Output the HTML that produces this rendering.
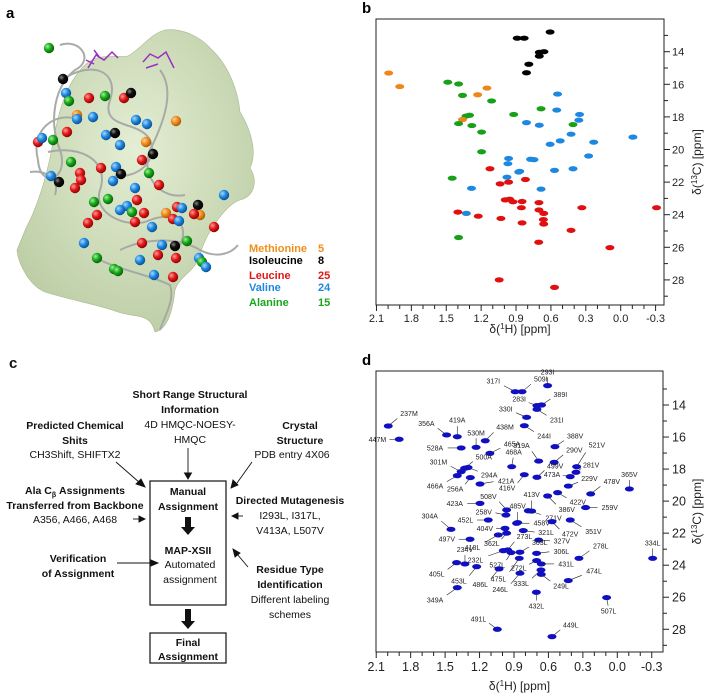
<!DOCTYPE html>
<html><head><meta charset="utf-8"><style>
html,body{margin:0;padding:0;background:#fff;}
svg{display:block;font-family:"Liberation Sans",sans-serif;}
.c text{font-size:10.5px;text-anchor:middle;fill:#111;}
.c .b{font-weight:bold;}
</style></head><body>
<svg id="fig" width="709" height="698" viewBox="0 0 709 698" xmlns="http://www.w3.org/2000/svg">
<defs>
<radialGradient id="gO" cx="35%" cy="35%" r="70%"><stop offset="0" stop-color="#ffd29a"/><stop offset="0.5" stop-color="#f08a1c"/><stop offset="1" stop-color="#a85500"/></radialGradient>
<radialGradient id="gI" cx="35%" cy="35%" r="70%"><stop offset="0" stop-color="#888"/><stop offset="0.4" stop-color="#111"/><stop offset="1" stop-color="#000"/></radialGradient>
<radialGradient id="gL" cx="35%" cy="35%" r="70%"><stop offset="0" stop-color="#ff9a9a"/><stop offset="0.5" stop-color="#e01818"/><stop offset="1" stop-color="#8a0000"/></radialGradient>
<radialGradient id="gV" cx="35%" cy="35%" r="70%"><stop offset="0" stop-color="#a8d8ff"/><stop offset="0.5" stop-color="#1e88e0"/><stop offset="1" stop-color="#0a4a90"/></radialGradient>
<radialGradient id="gA" cx="35%" cy="35%" r="70%"><stop offset="0" stop-color="#9cf29c"/><stop offset="0.5" stop-color="#19a619"/><stop offset="1" stop-color="#006000"/></radialGradient>
<radialGradient id="gS" cx="50%" cy="40%" r="70%"><stop offset="0" stop-color="#e4eed4"/><stop offset="1" stop-color="#b8caa0"/></radialGradient>
</defs>

<!-- Panel a -->
<g id="panel-a">
<text x="6" y="18" font-size="15" font-weight="bold">a</text>
<path fill="url(#gS)" stroke="#a8b890" stroke-width="0.6"
d="M17,250 C18,262 28,285 45,292 C70,300 100,305 118,312 C135,318 150,312 155,332 C165,330 172,318 175,290 C180,275 195,272 200,255 C205,235 225,205 240,200 C255,196 258,180 250,168 C258,152 250,128 240,112 C238,90 228,65 212,50 C200,36 182,28 165,30 C150,34 142,48 128,56 C112,58 98,52 84,66 C66,84 58,112 52,148 C46,180 36,210 26,228 Z"/>
<g fill="none" stroke="#a4a8a4" stroke-width="2" opacity="0.95">
<path d="M60,45 C80,38 95,60 75,70 C55,85 48,120 60,150 C70,180 40,190 38,160 C30,130 55,110 80,120"/>
<path d="M62,80 C90,60 120,70 110,100 C100,130 140,120 150,140 C160,165 130,180 115,175"/>
<path d="M48,152 C80,145 110,160 100,190 C92,215 130,230 150,220 C175,210 190,225 180,245"/>
<path d="M120,250 C140,240 175,235 200,250 C215,258 230,255 238,245"/>
<path d="M100,260 C120,270 150,275 170,285 C175,300 165,315 160,330"/>
<path d="M160,70 C175,90 165,120 150,150 C140,175 160,200 185,195"/>
<path d="M30,172 C45,170 60,178 55,195"/>
</g>
<g stroke="#9a30c0" stroke-width="1.5" fill="none">
<path d="M88,68 L96,55 L104,60 L112,52 L118,58 M94,50 L100,58 M86,60 L94,64"/>
<path d="M143,62 L150,54 L158,58 L166,52 L174,68 M146,68 L158,64"/>
</g>
<g id="spheres"></g>
<g font-size="11" font-weight="bold">
<text x="249" y="252" fill="#f0901c">Methionine</text><text x="318" y="252" fill="#f0901c">5</text>
<text x="249" y="264" fill="#000">Isoleucine</text><text x="318" y="264" fill="#000">8</text>
<text x="249" y="279" fill="#e01818">Leucine</text><text x="318" y="279" fill="#e01818">25</text>
<text x="249" y="291" fill="#1e88e0">Valine</text><text x="318" y="291" fill="#1e88e0">24</text>
<text x="249" y="306" fill="#19a619">Alanine</text><text x="318" y="306" fill="#19a619">15</text>
</g>
</g>

<!-- Panel c -->
<g class="c" id="panel-c">
<text x="9" y="368" style="font-size:15px;font-weight:bold;text-anchor:start">c</text>
<g>
<text class="b" x="190" y="398">Short Range Structural</text>
<text class="b" x="190" y="413">Information</text>
<text x="190" y="428">4D HMQC-NOESY-</text>
<text x="190" y="443">HMQC</text></g>
<g>
<text class="b" x="75" y="429">Predicted Chemical</text>
<text class="b" x="75" y="444">Shits</text>
<text x="75" y="458">CH3Shift, SHIFTX2</text></g>
<g>
<text class="b" x="300" y="429">Crystal</text>
<text class="b" x="300" y="444">Structure</text>
<text x="292" y="458">PDB entry 4X06</text></g>
<g>
<text class="b" x="75" y="494">Ala C<tspan font-size="7" dy="3">β</tspan><tspan dy="-3"> Assignments</tspan></text>
<text class="b" x="75" y="509">Transferred from Backbone</text>
<text x="75" y="523">A356, A466, A468</text></g>
<g>
<text class="b" x="290" y="504">Directed Mutagenesis</text>
<text x="290" y="519">I293L, I317L,</text>
<text x="290" y="534">V413A,  L507V</text></g>
<g>
<text class="b" x="78" y="562">Verification</text>
<text class="b" x="78" y="577">of Assignment</text></g>
<g>
<text class="b" x="290" y="573">Residue Type</text>
<text class="b" x="290" y="588">Identification</text>
<text x="290" y="603">Different labeling</text>
<text x="290" y="618">schemes</text></g>
<rect x="150" y="481" width="76" height="124" fill="none" stroke="#111" stroke-width="1.2"/>
<text class="b" x="188" y="495">Manual</text>
<text class="b" x="188" y="510">Assignment</text>
<text class="b" x="188" y="554">MAP-XSII</text>
<text x="190" y="568">Automated</text>
<text x="190" y="583">assignment</text>
<rect x="150" y="633" width="76" height="30" fill="none" stroke="#111" stroke-width="1.2"/>
<text class="b" x="188" y="646">Final</text>
<text class="b" x="188" y="660">Assignment</text>
<g fill="#111">
<path d="M185,517 h6 v10 h4 l-7,8 l-7,-8 h4 z"/>
<path d="M185,609 h6 v12 h4 l-7,8 l-7,-8 h4 z"/>
</g>
<g stroke="#111" stroke-width="0.9" fill="#111">
<line x1="188" y1="448" x2="188" y2="474"/><path d="M184.5,473 L188,479 L191.5,473 Z"/>
<line x1="116" y1="462" x2="140" y2="483"/><path d="M136,484 L145,487 L141,479 Z"/>
<line x1="252" y1="462" x2="237" y2="483"/><path d="M233,480 L231,488 L238,485 Z"/>
<line x1="133" y1="519" x2="140" y2="519"/><path d="M139,516 L145,519 L139,522 Z"/>
<line x1="243" y1="516" x2="237" y2="516"/><path d="M238,513 L232,516 L238,519 Z"/>
<line x1="117" y1="563" x2="152" y2="563"/><path d="M151,560 L158,563 L151,566 Z"/>
<line x1="248" y1="567" x2="237" y2="554"/><path d="M233,549 L240,553 L235,557 Z"/>
</g>
</g>

<g id="panel-b"></g>
<g id="panel-d"></g>
</svg>

<script>
// Assigned methyl peaks (label, 1H ppm, 13C ppm)
const peakLabels = ["293I","509I","317I","389I","283I","231I","330I","244I","237M","447M","356A","419A","438M","530M","528A","465A","319A","468A","388V","290V","521V","500A","301M","294A","281V","473A","499V","416V","466A","256A","421A","229V","478V","365V","422V","386V","259V","413V","271V","423A","508V","258V","485V","458V","452L","304A","404V","472V","351V","321L","327V","497V","418L","362L","273L","303L","306L","232L","527L","278L","334L","234V","405L","453L","431L","272L","333L","249L","474L","486L","475L","246L","349A","432L","507L","491L","449L"];
const hShift = [0.607,0.83,0.89,0.66,0.70,0.70,0.79,0.81,1.995,1.90,1.487,1.394,1.15,1.23,1.36,1.11,0.685,0.92,0.543,0.55,0.354,1.33,1.36,1.30,0.36,0.41,0.70,0.81,1.394,1.28,1.196,0.427,0.232,-0.105,0.52,0.607,0.276,0.746,0.775,1.196,0.964,0.97,0.868,0.877,1.124,1.449,0.978,0.569,0.41,0.819,0.685,1.283,1.037,0.964,0.955,0.848,0.703,0.993,0.926,0.334,-0.308,1.327,1.40,1.225,0.662,0.703,0.665,0.662,0.427,1.03,0.854,0.848,1.394,0.705,0.093,1.045,0.569];
const cShift = [12.79,13.17,13.17,14.0,14.04,14.27,14.77,15.29,15.31,16.14,15.87,15.98,16.23,16.64,16.68,17.02,17.5,17.85,16.6,17.58,17.85,17.95,18.16,17.9,18.2,18.47,18.51,18.35,18.41,18.53,18.93,19.06,19.55,19.24,19.47,19.68,20.4,20.62,20.6,20.14,20.55,20.87,21.34,21.38,21.18,21.76,21.7,21.28,21.18,21.84,22.43,22.38,22.11,22.0,23.05,23.19,23.26,23.09,23.21,23.57,23.57,23.92,23.84,24.09,23.92,23.71,24.3,24.57,24.96,24.23,23.57,24.5,25.4,25.69,26.02,28.0,28.46];
// label offsets (styling, px)
const labelDx = [0,12,-15,12,-11,13,-14,13,12,-13,-12,0,11,0,-18,14,-9,2,12,12,12,11,-14,13,7,-10,10,-9,-14,-7,18,13,13,0,12,11,16,0,17,-17,-10,-14,0,17,-15,-13,-12,10,15,15,15,-15,-18,-7,9,12,17,-20,-6,14,0,0,-12,-10,17,-10,-12,12,18,-11,-13,-12,-14,0,2,-11,11];
const labelDy = [-11,-10,-8,-8,-4,8,-6,8,-10,0,-9,-14,-11,-12,0,-7,-13,-12,-8,-10,-19,-9,-7,5,-5,-2,-9,11,8,9,-3,-5,-10,-12,7,11,0,-14,5,0,-11,-3,-14,0,0,-11,0,10,9,2,1,0,10,8,-11,-7,-2,7,10,-10,-13,-12,9,12,0,5,11,9,-7,13,18,14,10,11,11,-8,-9];
const xTicks = [2.1,1.8,1.5,1.2,0.9,0.6,0.3,0.0,-0.3];
const yTicks = [14,16,18,20,22,24,26,28];
const typeColor = {M:"#f0861a",I:"#000000",L:"#e01010",V:"#1e88e0",A:"#19a019"};

// Panel a spheres: [x, y, type]
const sphereX = [49,63,66,69,89,105,124,131,77,77,93,136,147,176,67,38,42,53,106,115,120,146,153,142,71,101,116,121,113,149,80,81,51,59,75,159,135,224,108,94,137,127,120,132,144,97,88,135,152,177,182,198,200,194,166,173,179,214,84,187,142,162,175,158,176,140,97,199,202,206,114,118,154,173];
const sphereY = [48,79,93,101,98,96,98,93,115,119,117,120,124,121,132,142,138,140,135,133,145,142,154,160,162,168,167,174,181,173,173,180,176,182,188,185,188,195,199,202,200,206,210,212,213,215,223,222,227,207,208,205,215,214,213,219,221,227,243,241,243,245,246,255,258,260,258,258,262,267,269,271,275,277];
const sphereT = "AIVALALIMVVVVMLLVAVIVMILALVIVALLVILLVVAALVVALLLLVLVIMLMLVLVALVILLVAVAVAAVL";

const NS = "http://www.w3.org/2000/svg";
function mk(tag, attrs, parent){const e=document.createElementNS(NS,tag);for(const k in attrs)e.setAttribute(k,attrs[k]);parent.appendChild(e);return e;}

const sg = document.getElementById('spheres');
const grad = {M:"gO",I:"gI",L:"gL",V:"gV",A:"gA"};
for(let i=0;i<sphereX.length;i++){
  const c = mk('circle',{cx:sphereX[i],cy:sphereY[i],r:5.2,fill:'url(#'+grad[sphereT[i]]+')'},sg);
  
  
}

function drawPanel(g, opt){
  const L=376, R=opt.R, T=opt.T, B=opt.B;
  const sx = p => opt.x0 - p*opt.kx;
  const sy = c => opt.y14 + (c-14)*opt.ky;
  const lab = mk('text',{x:362,y:opt.T-6,'font-size':15,'font-weight':'bold'},g); lab.textContent=opt.letter;
  
  
  const box = mk('rect',{x:L,y:T,width:R-L,height:B-T,fill:'none',stroke:'#222','stroke-width':1},g);
  
  
  for(let k=-3;k<=21;k++){const p=k/10;const x=sx(p); if(x<L-1||x>R+1)continue;
    const major = Math.abs(Math.round(k)%3)===0;
    const t=mk('line',{x1:x,y1:B,x2:x,y2:B+(major?6:4),stroke:'#222','stroke-width':1},g);
    
    }
  xTicks.forEach(p=>{const t=mk('text',{x:sx(p),y:B+opt.xl,'font-size':opt.fs,'text-anchor':'middle',fill:'#222'},g);t.textContent=p.toFixed(1);
    
    });
  for(let c=13;c<=29;c++){const y=sy(c); if(y<T||y>B)continue;
    const major=c%2===0;
    const t=mk('line',{x1:R,y1:y,x2:R+(major?6:4),y2:y,stroke:'#222','stroke-width':1},g);
    
    }
  yTicks.forEach(c=>{const t=mk('text',{x:R+opt.yl,y:sy(c)+opt.fs*0.36,'font-size':opt.fs,fill:'#222'},g);t.textContent=c;
    
    });
  const xt=mk('text',{x:(L+R)/2,y:opt.xt,'font-size':12,'text-anchor':'middle',fill:'#222'},g);
  xt.innerHTML='δ(<tspan font-size="8" dy="-4">1</tspan><tspan dy="4">H) [ppm]</tspan>';
  
  
  const yc=(T+B)/2;
  const yt=mk('text',{x:701,y:yc,'font-size':12,'text-anchor':'middle',fill:'#222',transform:'rotate(-90 701 '+yc+')'},g);
  yt.innerHTML='δ(<tspan font-size="8" dy="-4">13</tspan><tspan dy="4">C) [ppm]</tspan>';
  
  
  for(let i=0;i<peakLabels.length;i++){
    const x=sx(hShift[i]), y=sy(cShift[i]);
    const t=peakLabels[i].slice(-1);
    if(opt.labels){
      const dx=labelDx[i], dy=labelDy[i];
      const ln=mk('line',{x1:x,y1:y,x2:x+dx*0.75,y2:y+dy*0.75,stroke:'#222','stroke-width':0.6},g);
      
      
      const anchor = dx>3?'start':(dx<-3?'end':'middle');
      const tx=mk('text',{x:x+dx,y:y+dy+(dy>3?5:(dy<-3?0:2.5)),'font-size':7,'text-anchor':anchor,fill:'#222'},g);
      tx.textContent=peakLabels[i];
      
      
    }
    const e=mk('ellipse',{cx:x,cy:y,rx:4.5,ry:2.6,fill:opt.labels?'#1010c0':typeColor[t]},g);
    
    
  }
}
drawPanel(document.getElementById('panel-b'),{letter:'b',R:664,T:19,B:305,x0:620.7,kx:116.3,y14:51.7,ky:16.3,fs:11,xl:17,yl:8,xt:333,labels:false});
drawPanel(document.getElementById('panel-d'),{letter:'d',R:663,T:371,B:652,x0:617.3,kx:114.8,y14:405,ky:16.02,fs:12.5,xl:19,yl:9,xt:690,labels:true});
</script>
</body></html>
